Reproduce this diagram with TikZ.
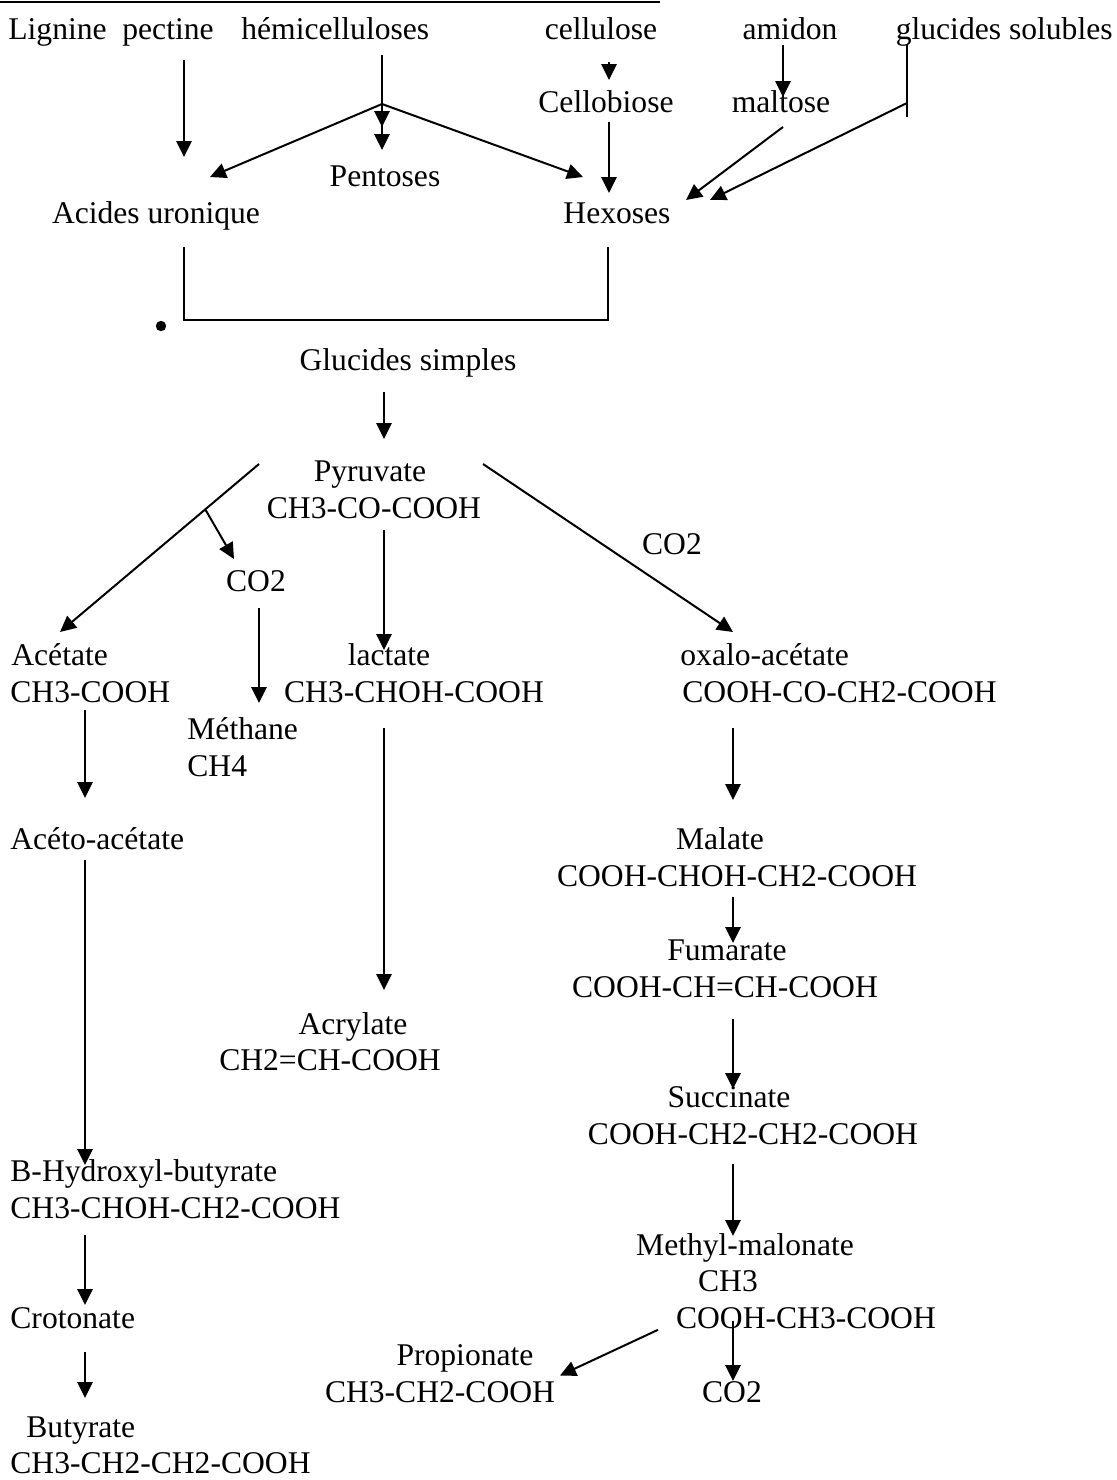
\documentclass[tikz,border=0pt]{standalone}
\usepackage{fontspec}
\setmainfont{Liberation Serif}
\usepackage{tikz}
\usetikzlibrary{arrows.meta,positioning}

\begin{document}
\begin{tikzpicture}[x=0.5pt,y=-0.5pt,
    lbl/.style={inner sep=0pt,font=\fontsize{15.8}{18.4}\selectfont},
    arr/.style={line width=1pt,-{Triangle[length=8pt,width=7.6pt]}},
    ln/.style={line width=1pt}]
    \useasboundingbox (0,0) rectangle (1116,1480);
    \draw[line width=1.1pt] (0,2) -- (660,2);

    % sources
    \node[lbl,anchor=base west] (lig) at (8,39) {Lignine};
    \node[lbl,anchor=base west] (pec) at (122,39) {pectine};
    \node[lbl,anchor=base west] (hemi) at (241,39) {hémicelluloses};
    \node[lbl,anchor=base] (cel) at (601,39) {cellulose};
    \node[lbl,anchor=base] (ami) at (790,39) {amidon};
    \node[lbl,anchor=base east] (glu) at (1113,39) {glucides solubles};
    \node[lbl,anchor=base] (cbio) at (606,112.7) {Cellobiose};
    \node[lbl,anchor=base] (malt) at (781,112.7) {maltose};
    \node[lbl,anchor=base] (pent) at (385,186.4) {Pentoses};
    \node[lbl,anchor=base] (acu) at (156,223.3) {Acides uronique};
    \node[lbl,anchor=base] (hex) at (617,223.3) {Hexoses};

    \coordinate (fork) at (382,104);
    \coordinate (gfork) at (907,103);
    \coordinate (bk) at (396,320);

    \draw[arr] ([shift={(62,21)}]pec.base west) -- ([shift={(28,-66.3)}]acu.base);
    \draw[arr] ([shift={(141,16)}]hemi.base west) -- ([shift={(0,23)}]fork);
    \draw[arr] (fork) -- ([shift={(-3,-36.4)}]pent.base);
    \draw[arr] (fork) -- ([shift={(54,-46.3)}]acu.base);
    \draw[arr] (fork) -- ([shift={(-34,-46.3)}]hex.base);
    \draw[arr] ([shift={(8,23)}]cel.base) -- ([shift={(3,-32.7)}]cbio.base);
    \draw[arr] ([shift={(3,9.3)}]cbio.base) -- ([shift={(-8,-30.3)}]hex.base);
    \draw[arr] ([shift={(-7,6)}]ami.base) -- ([shift={(2,-15.7)}]malt.base);
    \draw[arr] ([shift={(2,14.3)}]malt.base) -- ([shift={(69,-23.3)}]hex.base);
    \draw[ln] ([shift={(-206,6)}]glu.base east) -- ([shift={(0,14)}]gfork);
    \draw[arr] (gfork) -- ([shift={(93,-23.3)}]hex.base);

    \draw[ln] ([shift={(28,23.7)}]acu.base) |- (bk) -| ([shift={(-9,23.7)}]hex.base);
    \fill (161,326) circle[radius=2.6pt];

    % pyruvate
    \node[lbl,anchor=base] (gls) at (408,370.7) {Glucides simples};
    \node[lbl,anchor=base] (pyr1) at (370,481.2) {Pyruvate};
    \node[lbl,anchor=base] (pyr2) at (374,518.1) {CH3-CO-COOH};
    \node[lbl,anchor=base] (co2r) at (672,554.9) {CO2};
    \node[lbl,anchor=base] (co2l) at (256,591.8) {CO2};
    \draw[arr] ([shift={(-24,21.3)}]gls.base) -- ([shift={(14,-42.2)}]pyr1.base);

    \node[lbl,anchor=base west] (ace1) at (11,665.5) {Acétate};
    \node[lbl,anchor=base west] (ace2) at (10,702.3) {CH3-COOH};
    \node[lbl,anchor=base] (lac1) at (389,665.5) {lactate};
    \node[lbl,anchor=base] (lac2) at (414,702.3) {CH3-CHOH-COOH};
    \node[lbl,anchor=base west] (oxa1) at (680,665.5) {oxalo-acétate};
    \node[lbl,anchor=base west] (oxa2) at (682,702.3) {COOH-CO-CH2-COOH};
    \node[lbl,anchor=base west] (meth) at (187,739.2) {Méthane};
    \node[lbl,anchor=base west] (ch4) at (187,776) {CH4};

    \draw[arr] ([shift={(-111,-17.2)}]pyr1.base) -- coordinate[pos=0.27] (lb) ([shift={(49,-33.5)}]ace1.base west);
    \draw[arr] (lb) -- ([shift={(-22,-32.8)}]co2l.base);
    \draw[arr] ([shift={(113,-17.2)}]pyr1.base) -- ([shift={(53,-33.5)}]oxa1.base west);
    \draw[arr] ([shift={(10,11.9)}]pyr2.base) -- ([shift={(-5,-15.5)}]lac1.base);
    \draw[arr] ([shift={(3,16.2)}]co2l.base) -- ([shift={(72,-36.2)}]meth.base west);

    % acetate branch
    \node[lbl,anchor=base west] (aa) at (10,849.7) {Acéto-acétate};
    \node[lbl,anchor=base west] (bhb1) at (10,1181.4) {B-Hydroxyl-butyrate};
    \node[lbl,anchor=base west] (bhb2) at (10,1218.2) {CH3-CHOH-CH2-COOH};
    \node[lbl,anchor=base west] (cro) at (10,1328.8) {Crotonate};
    \node[lbl,anchor=base west] (but1) at (26,1437.5) {Butyrate};
    \node[lbl,anchor=base west] (but2) at (10,1473.5) {CH3-CH2-CH2-COOH};
    \draw[arr] ([shift={(75,7.7)}]ace2.base west) -- ([shift={(75,-51.7)}]aa.base west);
    \draw[arr] ([shift={(75,10.3)}]aa.base west) -- ([shift={(75,-16.4)}]bhb1.base west);
    \draw[arr] ([shift={(75,16.8)}]bhb2.base west) -- ([shift={(75,-23.8)}]cro.base west);
    \draw[arr] ([shift={(75,23.2)}]cro.base west) -- ([shift={(59,-39.5)}]but1.base west);

    % lactate branch
    \node[lbl,anchor=base] (acr1) at (353,1034) {Acrylate};
    \node[lbl,anchor=base] (acr2) at (330,1070.8) {CH2=CH-COOH};
    \draw[arr] ([shift={(-30,25.7)}]lac2.base) -- ([shift={(31,-44)}]acr1.base);

    % oxalo-acetate branch
    \node[lbl,anchor=base] (mal1) at (720,849.7) {Malate};
    \node[lbl,anchor=base] (mal2) at (737,886.6) {COOH-CHOH-CH2-COOH};
    \node[lbl,anchor=base] (fum1) at (727,960.3) {Fumarate};
    \node[lbl,anchor=base] (fum2) at (725,997.1) {COOH-CH=CH-COOH};
    \node[lbl,anchor=base] (suc1) at (729,1107.7) {Succinate};
    \node[lbl,anchor=base] (suc2) at (753,1144.5) {COOH-CH2-CH2-COOH};
    \node[lbl,anchor=base] (mm1) at (745,1255.1) {Methyl-malonate};
    \node[lbl,anchor=base] (mm2) at (728,1291.9) {CH3};
    \node[lbl,anchor=base] (mm3) at (806,1328.8) {COOH-CH3-COOH};
    \node[lbl,anchor=base] (pro1) at (465,1365.6) {Propionate};
    \node[lbl,anchor=base] (pro2) at (440,1402.5) {CH3-CH2-COOH};
    \node[lbl,anchor=base] (co2b) at (732,1402.5) {CO2};
    \draw[arr] ([shift={(51,25.7)}]oxa2.base west) -- ([shift={(13,-49.7)}]mal1.base);
    \draw[arr] ([shift={(-4,10.4)}]mal2.base) -- ([shift={(6,-17.3)}]fum1.base);
    \draw[arr] ([shift={(8,21.9)}]fum2.base) -- ([shift={(4,-18.7)}]suc1.base);
    \draw[arr] ([shift={(-20,19.5)}]suc2.base) -- ([shift={(-12,-19.1)}]mm1.base);
    \draw[arr] ([shift={(-73,-8)}]mm3.base) -- ([shift={(1,-21.5)}]co2b.base);
    \draw[arr] ([shift={(-148,1)}]mm3.base) -- ([shift={(120,-27)}]pro2.base);

\end{tikzpicture}
\end{document}
